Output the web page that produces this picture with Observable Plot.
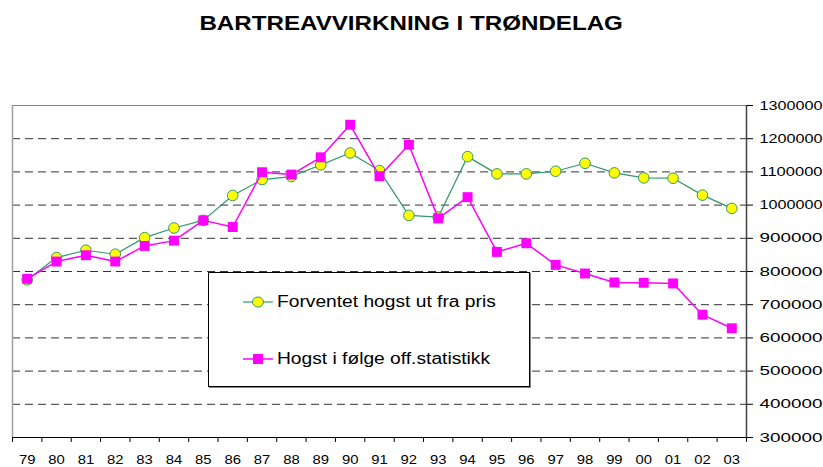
<!DOCTYPE html>
<html><head><meta charset="utf-8">
<script src="https://cdn.jsdelivr.net/npm/d3@7"></script>
<script src="https://cdn.jsdelivr.net/npm/@observablehq/plot@0.6"></script>
<style>
body{margin:0;background:#fff;font-family:"Liberation Sans",Arial,sans-serif;}
#wrap{position:relative;width:823px;height:467px;overflow:hidden;}
#title{height:45px;line-height:45px;text-align:center;color:#000;}
#title span{display:inline-block;font-weight:bold;font-size:21px;transform:scaleX(1.15);transform-origin:center;}
#legend{position:absolute;left:208px;top:272px;width:320px;height:113px;border:1px solid #000;background:#fff;box-shadow:1px 1px 0 #888;}
.item{position:absolute;left:0;height:20px;}
.item svg{position:absolute;left:34px;top:0;}
.item span{position:absolute;left:68px;top:0;font-size:16px;line-height:20px;white-space:nowrap;color:#000;transform:scaleX(1.2);transform-origin:left center;}
</style></head>
<body>
<div id="wrap">
<div id="title"><span>BARTREAVVIRKNING I TRØNDELAG</span></div>
<div id="chart"></div>
<div id="legend"></div>
</div>
<script>
const years = ["79","80","81","82","83","84","85","86","87","88","89","90","91","92","93","94","95","96","97","98","99","00","01","02","03"];
const forventet = [775000,842000,864000,852000,902000,931000,954000,1029000,1077000,1086000,1121000,1157000,1104000,969000,964000,1146000,1094000,1094000,1102000,1126000,1097000,1082000,1081000,1030000,990000];
const hogst = [778000,830000,849000,830000,877000,893000,954000,934000,1099000,1092000,1144000,1242000,1087000,1182000,960000,1024000,859000,885000,820000,794000,767000,766000,764000,670000,629000];
const seriesNames = ["Forventet hogst ut fra pris","Hogst i følge off.statistikk"];
const yTicks = [300000,400000,500000,600000,700000,800000,900000,1000000,1100000,1200000,1300000];

const GREEN = "#339966", YELLOW = "#ffff00", MAGENTA = "#ff00ff";
const dataF = years.map((y, i) => ({i, v: forventet[i]}));
const dataH = years.map((y, i) => ({i, v: hogst[i]}));
const idx = years.map((y, i) => i);

const chart = Plot.plot({
  width: 823, height: 422,
  marginTop: 60, marginBottom: 30, marginLeft: 12, marginRight: 77,
  x: {type: "linear", domain: [-0.5, years.length - 0.5]},
  y: {domain: [300000, 1300000]},
  style: {fontFamily: "'Liberation Sans', Arial, sans-serif", fontSize: "13px", color: "#000", background: "#fff"},
  marks: [
    Plot.ruleY(yTicks.filter(d => d > 300000 && d < 1300000), {stroke: "#333", strokeWidth: 1, strokeDasharray: "8,5"}),
    Plot.ruleY([1300000], {stroke: "#808080"}),
    Plot.ruleX([-0.5], {stroke: "#a0a0a0", strokeWidth: 1.5}),
    Plot.ruleX([years.length - 0.5], {stroke: "#404040", strokeWidth: 1.5}),
    Plot.ruleY([300000], {stroke: "#000"}),
    Plot.axisY({anchor: "right", ticks: yTicks, tickFormat: d => String(d), tickSize: 6, tickPadding: 7, label: null, fontSize: 13}),
    Plot.axisX({ticks: d3.range(-0.5, years.length, 1), tickFormat: () => "", tickSize: 5, label: null}),
    Plot.axisX({ticks: idx, tickFormat: i => years[i], tickSize: 0, tickPadding: 17, label: null, fontSize: 13}),
    Plot.line(dataF, {x: "i", y: "v", stroke: GREEN, strokeWidth: 1.2}),
    Plot.dot(dataF, {x: "i", y: "v", r: 5.3, fill: YELLOW, stroke: GREEN, strokeWidth: 1}),
    Plot.line(dataH, {x: "i", y: "v", stroke: MAGENTA, strokeWidth: 1.5}),
    Plot.dot(dataH, {x: "i", y: "v", symbol: "square", r: 5.6, fill: MAGENTA, stroke: "none"})
  ]
});
document.getElementById("chart").appendChild(chart);

// stretch tick labels horizontally like the original
d3.select(chart).selectAll('g[aria-label="y-axis tick label"] text')
  .attr("textLength", 63).attr("lengthAdjust", "spacingAndGlyphs");
d3.select(chart).selectAll('g[aria-label="x-axis tick label"] text')
  .filter(function() { return this.textContent.trim() !== ""; })
  .attr("textLength", 16.5).attr("lengthAdjust", "spacingAndGlyphs");

// legend
const legend = d3.select("#legend");
const tops = [19, 76];
seriesNames.forEach((name, k) => {
  const item = legend.append("div").attr("class", "item").style("top", tops[k] + "px");
  const svg = item.append("svg").attr("width", 32).attr("height", 20);
  const color = k === 0 ? GREEN : MAGENTA;
  svg.append("line").attr("x1", 0).attr("x2", 30).attr("y1", 10).attr("y2", 10).attr("stroke", color).attr("stroke-width", k === 0 ? 1.2 : 1.5);
  if (k === 0) svg.append("ellipse").attr("cx", 15).attr("cy", 10).attr("rx", 5.5).attr("ry", 5).attr("fill", YELLOW).attr("stroke", GREEN);
  else svg.append("rect").attr("x", 10).attr("y", 5).attr("width", 10).attr("height", 10).attr("fill", MAGENTA);
  item.append("span").text(name);
});
</script>
</body></html>
